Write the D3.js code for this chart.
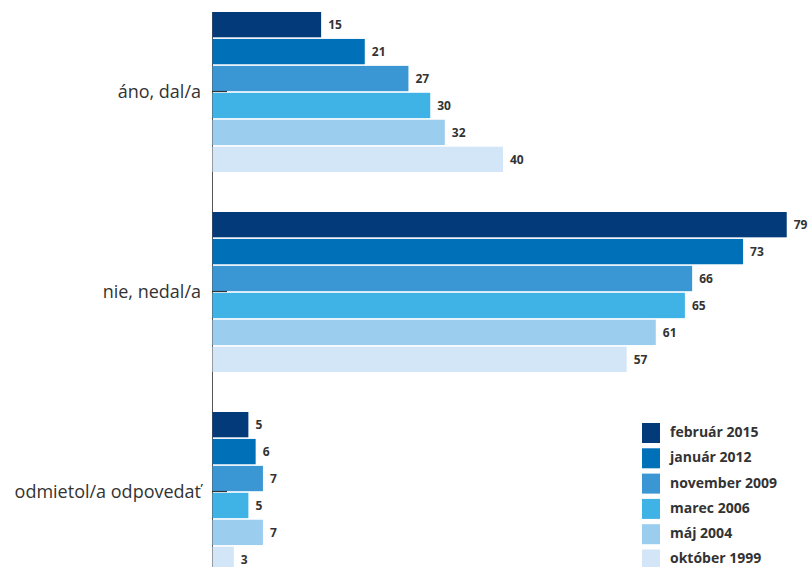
<!DOCTYPE html>
<html>
<head>
<meta charset="utf-8">
<script src="https://cdn.jsdelivr.net/npm/d3@7"></script>
<style>
  body { margin: 0; background: #fff; }
  svg { display: block; font-family: "Open Sans", sans-serif; }
</style>
</head>
<body>
<div id="chart"></div>
<script>
  const categories = ["áno, dal/a", "nie, nedal/a", "odmietol/a odpovedať"];
  const seriesNames = ["február 2015", "január 2012", "november 2009", "marec 2006", "máj 2004", "október 1999"];
  const seriesColors = ["#023a7a", "#0070b8", "#3a97d4", "#3fb2e6", "#9bcdef", "#d3e6f7"];
  const values = {
    "február 2015": [15, 79, 5],
    "január 2012": [21, 73, 6],
    "november 2009": [27, 66, 7],
    "marec 2006": [30, 65, 5],
    "máj 2004": [32, 61, 7],
    "október 1999": [40, 57, 3]
  };

  const width = 809, height = 567;

  const svg = d3.select("#chart")
    .append("svg")
    .attr("width", width)
    .attr("height", height);

  const x = d3.scaleLinear().domain([0, 80]).range([212, 794]);

  const y0 = d3.scaleBand()
    .domain(categories)
    .range([12, 572])
    .paddingInner(0.2)
    .paddingOuter(0);

  const y1 = d3.scaleBand()
    .domain(seriesNames)
    .range([0, y0.bandwidth()])
    .paddingInner(0.06);

  const color = d3.scaleOrdinal().domain(seriesNames).range(seriesColors);

  // vertical axis line
  svg.append("line")
    .attr("x1", 212.5).attr("x2", 212.5)
    .attr("y1", 12).attr("y2", height)
    .attr("stroke", "#555")
    .attr("stroke-width", 1);

  const rows = [];
  categories.forEach((c, i) => {
    seriesNames.forEach(s => rows.push({cat: c, series: s, value: values[s][i]}));
  });

  const bars = svg.append("g")
    .selectAll("g")
    .data(rows)
    .join("g")
    .attr("transform", d => `translate(0,${y0(d.cat) + y1(d.series)})`);

  bars.append("rect")
    .attr("x", x(0) + 0.5)
    .attr("width", d => x(d.value) - x(0) - 0.5)
    .attr("height", y1.bandwidth())
    .attr("fill", d => color(d.series));

  bars.append("text")
    .attr("x", d => x(d.value) + 7)
    .attr("y", y1.bandwidth() / 2)
    .attr("dy", "0.35em")
    .attr("font-size", 12)
    .attr("font-weight", "bold")
    .attr("fill", "#333")
    .text(d => d.value);

  // ticks and category labels
  const cats = svg.append("g")
    .selectAll("g")
    .data(categories)
    .join("g")
    .attr("transform", d => `translate(0,${Math.round(y0(d) + y0.bandwidth() / 2) - 0.5})`);

  cats.append("line")
    .attr("x1", 212).attr("x2", 227)
    .attr("stroke", "#333")
    .attr("stroke-width", 1.2);

  cats.append("text")
    .attr("x", 201)
    .attr("dy", "0.35em")
    .attr("text-anchor", "end")
    .attr("font-size", 18)
    .attr("fill", "#333")
    .text(d => d);

  // legend
  const legend = svg.append("g")
    .selectAll("g")
    .data(seriesNames)
    .join("g")
    .attr("transform", (d, i) => `translate(642,${423 + i * 25.3})`);

  legend.append("rect")
    .attr("width", 18)
    .attr("height", 20)
    .attr("fill", d => color(d));

  legend.append("text")
    .attr("x", 28)
    .attr("y", 9)
    .attr("dy", "0.35em")
    .attr("font-size", 14)
    .attr("font-weight", "bold")
    .attr("fill", "#333")
    .text(d => d);
</script>
</body>
</html>
